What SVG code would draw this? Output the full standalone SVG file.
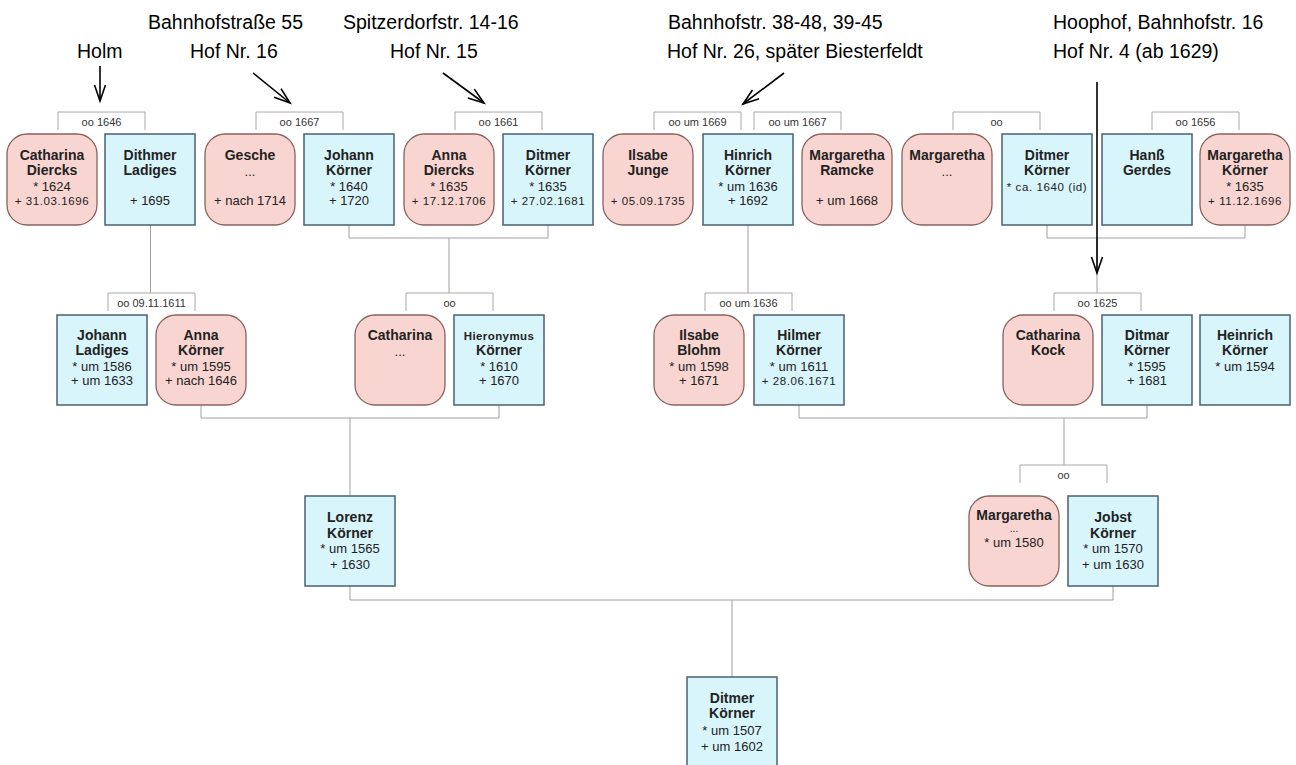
<svg xmlns="http://www.w3.org/2000/svg" width="1296" height="765" viewBox="0 0 1296 765">
<defs>
<marker id="ah" markerUnits="userSpaceOnUse" markerWidth="24" markerHeight="16" viewBox="-18 -8 20 16" refX="0" refY="0" orient="auto">
<path d="M-16,-5.5 L0,0 L-16,5.5" fill="none" stroke="#000" stroke-width="1.6"/>
</marker>
</defs>
<style>
.m{fill:#d8f5fb;stroke:#4a6070;stroke-width:1.5}
.f{fill:#f9d5d1;stroke:#8a625c;stroke-width:1.3}
text{font-family:"Liberation Sans",Arial,sans-serif;fill:#222;text-anchor:middle}
.n{font-size:14px;font-weight:bold}
.nh{font-size:11.5px;font-weight:bold;letter-spacing:0.4px}
.d{font-size:13px}
.ds{font-size:11.5px;letter-spacing:0.6px}
.dots{font-size:10px}
.lbl{font-size:11px;fill:#333}
.con{fill:none;stroke:#a0a0a0;stroke-width:1}
.mb{fill:#fff;stroke:#a8a8a8;stroke-width:1}
.ann{font-size:19.5px;fill:#000;text-anchor:start}
.arr{fill:none;stroke:#000;stroke-width:1.6;marker-end:url(#ah)}
</style>
<rect width="1296" height="765" fill="#fff"/>

<g id="annotations">
<text class="ann" x="77" y="58">Holm</text>
<text class="ann" x="148" y="29">Bahnhofstraße 55</text>
<text class="ann" x="190" y="58">Hof Nr. 16</text>
<text class="ann" x="343" y="29">Spitzerdorfstr. 14-16</text>
<text class="ann" x="390" y="58">Hof Nr. 15</text>
<text class="ann" x="668" y="29">Bahnhofstr. 38-48, 39-45</text>
<text class="ann" x="667" y="58">Hof Nr. 26, später Biesterfeldt</text>
<text class="ann" x="1053" y="29">Hoophof, Bahnhofstr. 16</text>
<text class="ann" x="1053" y="58">Hof Nr. 4 (ab 1629)</text>
<path class="arr" d="M100,66 L100,101"/>
<path class="arr" d="M253,73 L290,103"/>
<path class="arr" d="M443,73 L484,103"/>
<path class="arr" d="M784,73 L743,104"/>
</g>

<g id="connectors">
<path class="con" d="M150.5,225 V293"/>
<path class="con" d="M349,225 V238 H548 V225 M449,238 V293"/>
<path class="con" d="M748,225 V293"/>
<path class="con" d="M1047,225 V238 H1245 V225 M1097,238 V293"/>
<path class="con" d="M201,405 V418 H499 V405 M350,418 V496"/>
<path class="con" d="M799,405 V418 H1147 V405 M1064,418 V465"/>
<path class="con" d="M350,586 V600 H1113 V586 M732,600 V677"/>
</g>

<g id="marriages">
<path class="mb" d="M58,130 V112 H145 V130"/><text class="lbl" x="101.5" y="125.5">oo 1646</text>
<path class="mb" d="M256,130 V112 H343 V130"/><text class="lbl" x="299.5" y="125.5">oo 1667</text>
<path class="mb" d="M455,130 V112 H542 V130"/><text class="lbl" x="498.5" y="125.5">oo 1661</text>
<path class="mb" d="M654,130 V112 H741 V130"/><text class="lbl" x="697.5" y="125.5">oo um 1669</text>
<path class="mb" d="M754,130 V112 H841 V130"/><text class="lbl" x="797.5" y="125.5">oo um 1667</text>
<path class="mb" d="M953,130 V112 H1040 V130"/><text class="lbl" x="996.5" y="125.5">oo</text>
<path class="mb" d="M1152,130 V112 H1239 V130"/><text class="lbl" x="1195.5" y="125.5">oo 1656</text>
<path class="mb" d="M108,311 V293 H195 V311"/><text class="lbl" x="151.5" y="306.5">oo 09.11.1611</text>
<path class="mb" d="M406,311 V293 H493 V311"/><text class="lbl" x="449.5" y="306.5">oo</text>
<path class="mb" d="M705,311 V293 H792 V311"/><text class="lbl" x="748.5" y="306.5">oo um 1636</text>
<path class="mb" d="M1054,311 V293 H1141 V311"/><text class="lbl" x="1097.5" y="306.5">oo 1625</text>
<path class="mb" d="M1020,483 V465 H1107 V483"/><text class="lbl" x="1063.5" y="478.5">oo</text>
</g>

<path class="arr" d="M1097,82 L1097,273"/>

<g id="catharina-diercks"><rect class="f" x="7" y="134" width="90" height="91" rx="20"/>
<text class="n" x="52" y="160">Catharina</text><text class="n" x="52" y="175">Diercks</text><text class="d" x="52" y="190.5">* 1624</text><text class="ds" x="52" y="205">+ 31.03.1696</text></g>
<g id="dithmer-ladiges"><rect class="m" x="105" y="134" width="90" height="91"/>
<text class="n" x="150" y="160">Dithmer</text><text class="n" x="150" y="175">Ladiges</text><text class="d" x="150" y="205">+ 1695</text></g>
<g id="gesche"><rect class="f" x="205" y="134" width="90" height="91" rx="20"/>
<text class="n" x="250" y="160">Gesche</text><text class="d" x="250" y="176">...</text><text class="d" x="250" y="205">+ nach 1714</text></g>
<g id="johann-koerner"><rect class="m" x="304" y="134" width="90" height="91"/>
<text class="n" x="349" y="160">Johann</text><text class="n" x="349" y="175">Körner</text><text class="d" x="349" y="190.5">* 1640</text><text class="d" x="349" y="205">+ 1720</text></g>
<g id="anna-diercks"><rect class="f" x="404" y="134" width="90" height="91" rx="20"/>
<text class="n" x="449" y="160">Anna</text><text class="n" x="449" y="175">Diercks</text><text class="d" x="449" y="190.5">* 1635</text><text class="ds" x="449" y="205">+ 17.12.1706</text></g>
<g id="ditmer-koerner-1635"><rect class="m" x="503" y="134" width="90" height="91"/>
<text class="n" x="548" y="160">Ditmer</text><text class="n" x="548" y="175">Körner</text><text class="d" x="548" y="190.5">* 1635</text><text class="ds" x="548" y="205">+ 27.02.1681</text></g>
<g id="ilsabe-junge"><rect class="f" x="603" y="134" width="90" height="91" rx="20"/>
<text class="n" x="648" y="160">Ilsabe</text><text class="n" x="648" y="175">Junge</text><text class="ds" x="648" y="205">+ 05.09.1735</text></g>
<g id="hinrich-koerner"><rect class="m" x="703" y="134" width="90" height="91"/>
<text class="n" x="748" y="160">Hinrich</text><text class="n" x="748" y="175">Körner</text><text class="d" x="748" y="190.5">* um 1636</text><text class="d" x="748" y="205">+ 1692</text></g>
<g id="margaretha-ramcke"><rect class="f" x="802" y="134" width="90" height="91" rx="20"/>
<text class="n" x="847" y="160">Margaretha</text><text class="n" x="847" y="175">Ramcke</text><text class="d" x="847" y="205">+ um 1668</text></g>
<g id="margaretha-1"><rect class="f" x="902" y="134" width="90" height="91" rx="20"/>
<text class="n" x="947" y="160">Margaretha</text><text class="d" x="947" y="176">...</text></g>
<g id="ditmer-koerner-1640"><rect class="m" x="1002" y="134" width="90" height="91"/>
<text class="n" x="1047" y="160">Ditmer</text><text class="n" x="1047" y="175">Körner</text><text class="ds" x="1047" y="190.5">* ca. 1640 (id)</text></g>
<g id="hanss-gerdes"><rect class="m" x="1102" y="134" width="90" height="91"/>
<text class="n" x="1147" y="160">Hanß</text><text class="n" x="1147" y="175">Gerdes</text></g>
<g id="margaretha-koerner"><rect class="f" x="1200" y="134" width="90" height="91" rx="20"/>
<text class="n" x="1245" y="160">Margaretha</text><text class="n" x="1245" y="175">Körner</text><text class="d" x="1245" y="190.5">* 1635</text><text class="ds" x="1245" y="205">+ 11.12.1696</text></g>

<g id="johann-ladiges"><rect class="m" x="57" y="315" width="90" height="90"/>
<text class="n" x="102" y="340">Johann</text><text class="n" x="102" y="355">Ladiges</text><text class="d" x="102" y="370.5">* um 1586</text><text class="d" x="102" y="385">+ um 1633</text></g>
<g id="anna-koerner"><rect class="f" x="156" y="315" width="90" height="90" rx="20"/>
<text class="n" x="201" y="340">Anna</text><text class="n" x="201" y="355">Körner</text><text class="d" x="201" y="370.5">* um 1595</text><text class="d" x="201" y="385">+ nach 1646</text></g>
<g id="catharina-2"><rect class="f" x="355" y="315" width="90" height="90" rx="20"/>
<text class="n" x="400" y="340">Catharina</text><text class="d" x="400" y="356">...</text></g>
<g id="hieronymus-koerner"><rect class="m" x="454" y="315" width="90" height="90"/>
<text class="nh" x="499" y="340">Hieronymus</text><text class="n" x="499" y="355">Körner</text><text class="d" x="499" y="370.5">* 1610</text><text class="d" x="499" y="385">+ 1670</text></g>
<g id="ilsabe-blohm"><rect class="f" x="654" y="315" width="90" height="90" rx="20"/>
<text class="n" x="699" y="340">Ilsabe</text><text class="n" x="699" y="355">Blohm</text><text class="d" x="699" y="370.5">* um 1598</text><text class="d" x="699" y="385">+ 1671</text></g>
<g id="hilmer-koerner"><rect class="m" x="754" y="315" width="90" height="90"/>
<text class="n" x="799" y="340">Hilmer</text><text class="n" x="799" y="355">Körner</text><text class="d" x="799" y="370.5">* um 1611</text><text class="ds" x="799" y="385">+ 28.06.1671</text></g>
<g id="catharina-kock"><rect class="f" x="1003" y="315" width="90" height="90" rx="20"/>
<text class="n" x="1048" y="340">Catharina</text><text class="n" x="1048" y="355">Kock</text></g>
<g id="ditmar-koerner"><rect class="m" x="1102" y="315" width="90" height="90"/>
<text class="n" x="1147" y="340">Ditmar</text><text class="n" x="1147" y="355">Körner</text><text class="d" x="1147" y="370.5">* 1595</text><text class="d" x="1147" y="385">+ 1681</text></g>
<g id="heinrich-koerner"><rect class="m" x="1200" y="315" width="90" height="90"/>
<text class="n" x="1245" y="340">Heinrich</text><text class="n" x="1245" y="355">Körner</text><text class="d" x="1245" y="370.5">* um 1594</text></g>

<g id="lorenz-koerner"><rect class="m" x="305" y="496" width="90" height="90"/>
<text class="n" x="350" y="522">Lorenz</text><text class="n" x="350" y="537.5">Körner</text><text class="d" x="350" y="553">* um 1565</text><text class="d" x="350" y="568.5">+ 1630</text></g>
<g id="margaretha-3"><rect class="f" x="969" y="496" width="90" height="90" rx="20"/>
<text class="n" x="1014" y="520">Margaretha</text><text class="dots" x="1014" y="532">...</text><text class="d" x="1014" y="547">* um 1580</text></g>
<g id="jobst-koerner"><rect class="m" x="1068" y="496" width="90" height="90"/>
<text class="n" x="1113" y="522">Jobst</text><text class="n" x="1113" y="537.5">Körner</text><text class="d" x="1113" y="553">* um 1570</text><text class="d" x="1113" y="568.5">+ um 1630</text></g>

<g id="ditmer-koerner-1507"><rect class="m" x="687" y="677" width="90" height="100"/>
<text class="n" x="732" y="702.5">Ditmer</text><text class="n" x="732" y="718">Körner</text><text class="d" x="732" y="734.5">* um 1507</text><text class="d" x="732" y="751">+ um 1602</text></g>
</svg>
